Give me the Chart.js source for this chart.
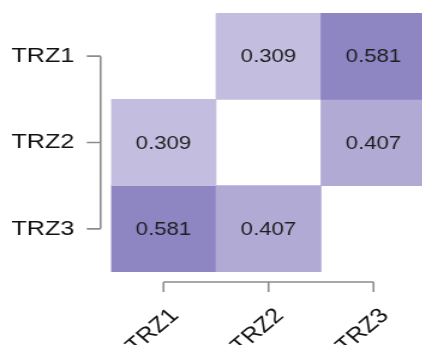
<!DOCTYPE html>
<html><head><meta charset="utf-8">
<script src="https://cdn.jsdelivr.net/npm/chart.js@4"></script>
<style>
html,body{margin:0;padding:0;overflow:hidden;background:#fff;width:422px;height:345px}
#wrap{transform:scaleX(1.2);transform-origin:0 0;width:355px;height:345px}
canvas{display:block}
</style></head><body><div id="wrap"><canvas id="c" width="355" height="345"></canvas></div>
<script>
// ---- data ----
const categories = ['TRZ1', 'TRZ2', 'TRZ3'];
const rowLabels = ['TRZ1', 'TRZ2', 'TRZ3'];
const rowTRZ1 = [null, 0.309, 0.581];
const rowTRZ2 = [0.309, null, 0.407];
const rowTRZ3 = [0.581, 0.407, null];
const rowValues = [rowTRZ1, rowTRZ2, rowTRZ3];

function cellColor(v) {
  const r = Math.round(255 - 194 * v), g = Math.round(255 - 210 * v), b = Math.round(255 - 104 * v);
  return `rgb(${r},${g},${b})`;
}

const FONT = "'Liberation Sans', Arial, sans-serif";
Chart.defaults.font.family = FONT;

const datasets = rowValues.map((vals, i) => ({
  label: rowLabels[i],
  data: vals.map(v => v == null ? null : [i, i + 1]),
  values: vals,
  backgroundColor: vals.map(v => v == null ? 'rgba(0,0,0,0)' : cellColor(v)),
  borderWidth: 0,
  grouped: false,
  barPercentage: 1,
  categoryPercentage: 1
}));

const decor = {
  id: 'decor',
  afterDatasetsDraw(chart) {
    const ctx = chart.ctx;
    ctx.save();
    ctx.font = `18.5px ${FONT}`;
    ctx.fillStyle = '#1e1e1e';
    ctx.textAlign = 'center';
    ctx.textBaseline = 'middle';
    chart.data.datasets.forEach((ds, di) => {
      const meta = chart.getDatasetMeta(di);
      meta.data.forEach((el, j) => {
        const v = ds.values[j];
        if (v == null) return;
        const p = el.getCenterPoint();
        ctx.fillText(v.toFixed(3), p.x, p.y + 1);
      });
    });
    // brackets
    const xs = chart.scales.x, ys = chart.scales.y, ca = chart.chartArea;
    ctx.strokeStyle = '#8c8c8c';
    ctx.lineWidth = 1.6;
    const by = ca.bottom + 10;
    const x0 = xs.getPixelForValue(0), x2 = xs.getPixelForValue(categories.length - 1);
    ctx.beginPath();
    ctx.moveTo(x0, by); ctx.lineTo(x2, by);
    categories.forEach((c, j) => {
      const x = xs.getPixelForValue(j);
      ctx.moveTo(x, by); ctx.lineTo(x, by + 10);
    });
    ctx.stroke();
    const bx = ca.left - 8.7;
    const y0 = ys.getPixelForValue(0.5), y2 = ys.getPixelForValue(rowLabels.length - 0.5);
    ctx.beginPath();
    ctx.moveTo(bx, y0); ctx.lineTo(bx, y2);
    rowLabels.forEach((r, i) => {
      const y = ys.getPixelForValue(i + 0.5);
      ctx.moveTo(bx, y); ctx.lineTo(bx - 11.5, y);
    });
    ctx.stroke();
    ctx.restore();
  }
};

new Chart(document.getElementById('c'), {
  type: 'bar',
  data: { labels: categories, datasets },
  options: {
    responsive: false,
    animation: false,
    devicePixelRatio: 1,
    layout: { padding: { top: 13, left: 0, right: 0, bottom: 0 } },
    plugins: { legend: { display: false }, tooltip: { enabled: false } },
    scales: {
      x: {
        type: 'category',
        offset: true,
        grid: { display: false, drawTicks: false },
        border: { display: false },
        ticks: {
          minRotation: 45, maxRotation: 45, autoSkip: false,
          padding: 31.5, labelOffset: 9.5,
          color: '#111', font: { size: 21, family: FONT }
        },
        afterFit(s) { s.height = 73; s.paddingLeft = 0; s.paddingRight = 0; }
      },
      y: {
        type: 'linear',
        min: 0, max: 3, reverse: true,
        grid: { display: false, drawTicks: false },
        border: { display: false },
        afterBuildTicks(s) { s.ticks = rowLabels.map((r, i) => ({ value: i + 0.5 })); },
        ticks: {
          padding: 30.5,
          color: '#111', font: { size: 21, family: FONT },
          callback: (v) => rowLabels[Math.floor(v)]
        },
        afterFit(s) { s.width = 92.5; s.paddingTop = 0; s.paddingBottom = 0; }
      }
    }
  },
  plugins: [decor]
});
</script>
</body></html>
